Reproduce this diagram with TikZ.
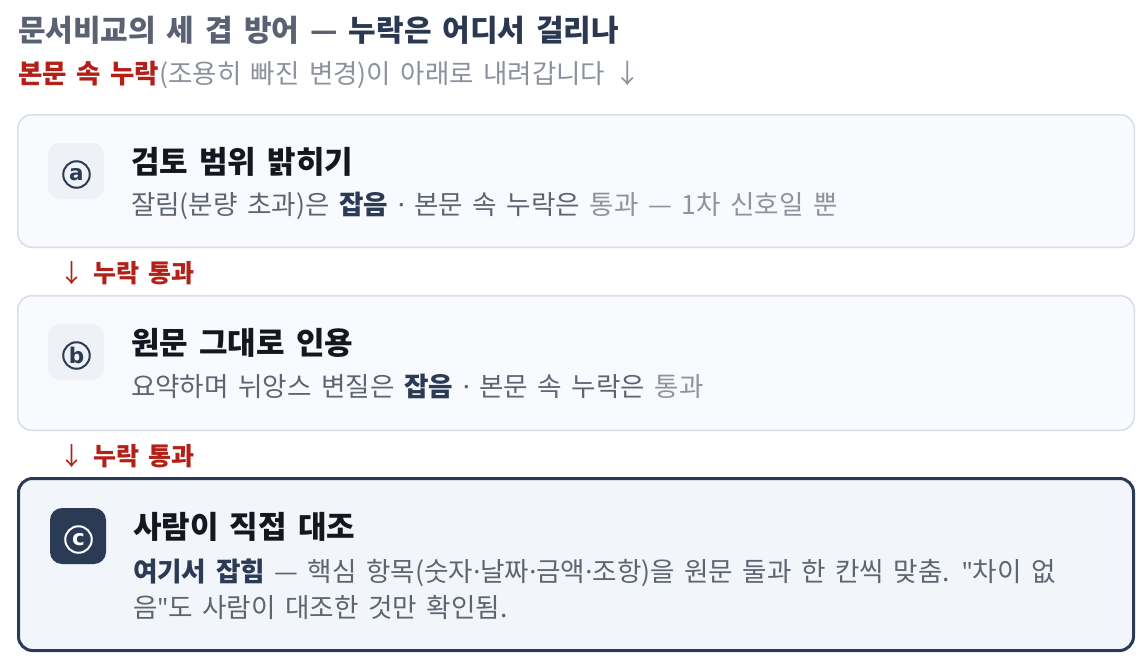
\documentclass[tikz,border=0pt]{standalone}
\usepackage{fontspec}
\setmainfont{Noto Sans CJK KR}[WordSpace=1.6]
\newfontfamily\latinfont{Noto Sans}
\newfontfamily\letterfont{DejaVu Sans}
\definecolor{titlegray}{HTML}{5A6173}
\definecolor{titlenavy}{HTML}{2A3852}
\definecolor{alertred}{HTML}{B22018}
\definecolor{subgray}{HTML}{8B919D}
\definecolor{cardfill}{HTML}{F9FAFD}
\definecolor{cardline}{HTML}{D8DDE7}
\definecolor{badgefill}{HTML}{EEF1F6}
\definecolor{navy}{HTML}{2B3A55}
\definecolor{ink}{HTML}{14171F}
\definecolor{descgray}{HTML}{5D6472}
\definecolor{lightgray}{HTML}{8E949F}
\definecolor{cfill}{HTML}{F2F5FA}
\newcommand{\md}{{\latinfont ·}}
\newcommand{\qt}{{\latinfont "}}
\tikzset{
  txt/.style={anchor=base west, inner sep=0pt, outer sep=0pt},
  card/.style={draw=cardline, line width=1.5pt, fill=cardfill, rounded corners=14pt,
    minimum width=1116.5pt, inner sep=0pt},
  cardc/.style={draw=navy, line width=3pt, fill=cfill, rounded corners=14pt,
    minimum width=1115pt, minimum height=172pt, inner sep=0pt},
  badge/.style={fill=badgefill, rounded corners=12pt, minimum width=56pt, minimum height=56pt,
    inner sep=0pt},
  badgec/.style={badge, fill=navy},
  circletter/.style={circle, draw=#1, line width=2pt, minimum size=26.5pt, inner sep=0pt,
    text=#1, font=\fontsize{21.5}{21.5}\letterfont\bfseries},
  ctitle/.style={txt, text=ink, font=\fontsize{31}{34}\selectfont\bfseries},
  cdesc/.style={txt, text=descgray, font=\fontsize{26.6}{30}\selectfont},
  passlabel/.style={txt, text=alertred, font=\fontsize{25}{28}\selectfont\bfseries},
}
\begin{document}
\begin{tikzpicture}[x=1pt,y=-1pt]
\fill[white] (0,0) rectangle (1148,669);
\useasboundingbox (0,0) rectangle (1148,669);

% heading
\node[txt, font=\fontsize{30}{33}\selectfont\bfseries] (head) at (18,41.4)
  {\textcolor{titlegray}{문서비교의 세 겹 방어 —} \textcolor{titlenavy}{누락은 어디서 걸리나}};
\node[txt, text=subgray, font=\fontsize{26.5}{30}\selectfont] (sub) at (18,83.5)
  {\textcolor{alertred}{\bfseries 본문 속 누락}(조용히 빠진 변경)이 아래로 내려갑니다 ↓};

% card a
\node[card, minimum height=132.5pt] (boxa) at (576,181) {};
\node[badge] (bada) at (76,171) {};
\node[circletter=navy] (ca) at (76.5,174.5) {a};
\node[ctitle] (ta) at (131,173.8) {검토 범위 밝히기};
\node[cdesc] (da) at (131,214)
  {잘림(분량 초과)은 \textcolor{navy}{\bfseries 잡음} \md{} 본문 속 누락은 \textcolor{lightgray}{통과 — 1차 신호일 뿐}};

\node[passlabel] (pass1) at (59,282.7) {{\mdseries ↓} 누락 통과};

% card b
\node[card, minimum height=134.5pt] (boxb) at (576,363) {};
\node[badge] (badb) at (76,352) {};
\node[circletter=navy] (cb) at (76.5,355.5) {b};
\node[ctitle] (tb) at (131,354.8) {원문 그대로 인용};
\node[cdesc] (db) at (131,396)
  {요약하며 뉘앙스 변질은 \textcolor{navy}{\bfseries 잡음} \md{} 본문 속 누락은 \textcolor{lightgray}{통과}};

\node[passlabel] (pass2) at (59,465.7) {{\mdseries ↓} 누락 통과};

% card c
\node[cardc] (boxc) at (576,564.5) {};
\node[badgec] (badc) at (78,536) {};
\node[circletter=white] (cc) at (78.5,539.5) {c};
\node[ctitle] (tc) at (133,538.8) {사람이 직접 대조};
\node[cdesc] (dc1) at (133,581)
  {\textcolor{navy}{\bfseries 여기서 잡힘} — 핵심 항목(숫자\md 날짜\md 금액\md 조항)을 원문 둘과 한 칸씩 맞춤. \qt 차이 없};
\node[cdesc] (dc2) at (133,617) {음\qt 도 사람이 대조한 것만 확인됨.};
\end{tikzpicture}
\end{document}
